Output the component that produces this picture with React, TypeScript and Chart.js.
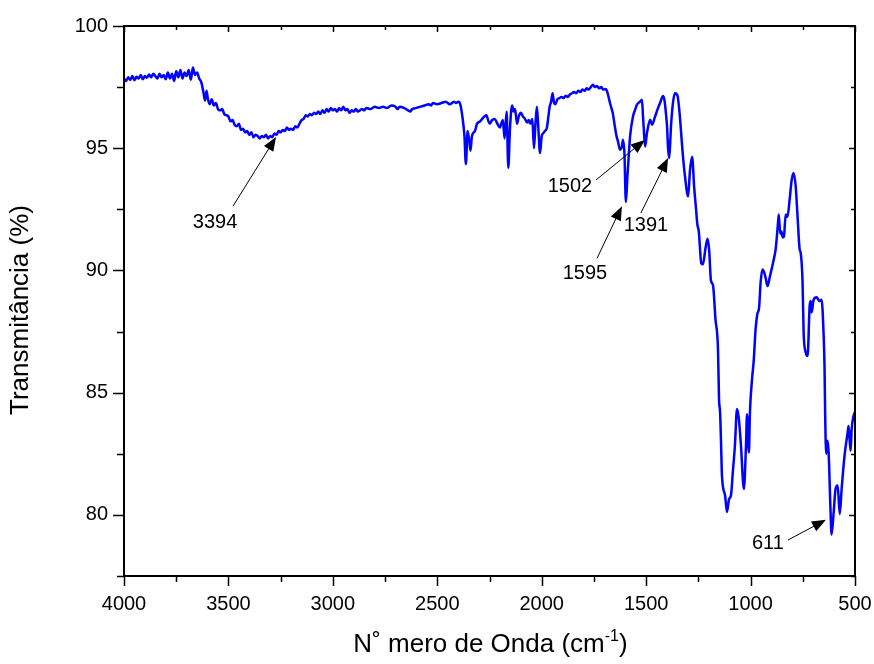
import React, { useEffect, useRef } from "react";
import { Chart, registerables } from "chart.js";

Chart.register(...registerables);

const wavenumber = [
  4000, 3990, 3980, 3970, 3960, 3950, 3940, 3930, 3920, 3910,
  3900, 3890, 3880, 3870, 3860, 3850, 3840, 3830, 3820, 3810,
  3800, 3790, 3780, 3770, 3760, 3750, 3740, 3730, 3720, 3710,
  3700, 3690, 3680, 3670, 3660, 3650, 3640, 3630, 3620, 3612,
  3605, 3598, 3590, 3580, 3570, 3560, 3550, 3540, 3530, 3520,
  3510, 3500, 3490, 3480, 3470, 3460, 3450, 3440, 3430, 3420,
  3410, 3400, 3390, 3380, 3370, 3360, 3350, 3340, 3330, 3320,
  3310, 3300, 3290, 3280, 3270, 3260, 3250, 3240, 3230, 3220,
  3210, 3200, 3190, 3180, 3170, 3160, 3150, 3140, 3130, 3120,
  3110, 3100, 3090, 3080, 3070, 3060, 3050, 3040, 3030, 3020,
  3010, 3000, 2990, 2980, 2970, 2960, 2950, 2940, 2930, 2920,
  2910, 2900, 2890, 2880, 2870, 2860, 2850, 2840, 2820, 2800,
  2780, 2760, 2740, 2720, 2700, 2690, 2680, 2660, 2640, 2630,
  2620, 2600, 2580, 2560, 2540, 2530, 2520, 2500, 2480, 2460,
  2440, 2420, 2410, 2400, 2390, 2380, 2370, 2363, 2355, 2347,
  2341, 2334, 2320, 2310, 2295, 2280, 2265, 2255, 2248, 2238,
  2225, 2212, 2200, 2192, 2186, 2178, 2168, 2160, 2152, 2142,
  2134, 2128, 2118, 2110, 2100, 2090, 2080, 2070, 2062, 2055,
  2045, 2037, 2030, 2023, 2016, 2008, 2000, 1994, 1985, 1975,
  1968, 1962, 1955, 1948, 1942, 1935, 1925, 1915, 1905, 1895,
  1885, 1875, 1865, 1855, 1845, 1835, 1825, 1815, 1805, 1795,
  1785, 1775, 1765, 1755, 1745, 1735, 1725, 1715, 1705, 1695,
  1688, 1680, 1673, 1665, 1659, 1650, 1642, 1635, 1625, 1616,
  1611, 1604, 1597, 1590, 1584, 1577, 1563, 1553, 1544, 1530,
  1520, 1515, 1510, 1505, 1496, 1481, 1472, 1457, 1445, 1433,
  1419, 1412, 1405, 1400, 1395, 1390, 1385, 1381, 1371, 1362,
  1350, 1340, 1325, 1314, 1299, 1290, 1280, 1270, 1262, 1255,
  1248, 1236, 1228, 1216, 1206, 1198, 1190, 1180, 1168, 1156,
  1151, 1146, 1141, 1137, 1122, 1113, 1103, 1094, 1085, 1075,
  1065, 1056, 1046, 1032, 1022, 1017, 1008, 1003, 993, 985,
  976, 968, 959, 952, 943, 934, 928, 919, 907, 889,
  880, 870, 865, 858, 853, 846, 840, 832, 823, 813,
  803, 794, 784, 775, 765, 760, 751, 746, 736, 727,
  717, 712, 708, 698, 684, 670, 660, 650, 646, 643,
  638, 631, 626, 617, 612, 602, 593, 583, 573, 564,
  550, 535, 531, 526, 521, 516, 507, 500,
];

const transmittance = [
  97.85, 97.75, 97.9, 97.8, 97.95, 97.78, 97.92, 97.85, 98.0, 97.82,
  97.95, 97.88, 98.02, 97.9, 98.05, 97.95, 97.85, 98.05, 97.9, 98.0,
  97.82, 98.1, 97.85, 98.05, 97.75, 98.15, 97.9, 98.2, 97.85, 98.1,
  97.95, 98.2, 97.8, 98.3, 98.0, 98.1, 97.85, 97.7, 97.3, 96.95,
  97.35, 97.0, 96.8, 97.0, 96.75, 96.85, 96.6, 96.55, 96.6, 96.4,
  96.35, 96.3, 96.1, 96.15, 95.95, 95.9, 96.0, 95.75, 95.8, 95.65,
  95.7, 95.55, 95.65, 95.45, 95.55, 95.5, 95.4, 95.5, 95.45, 95.55,
  95.4, 95.5, 95.45, 95.6, 95.55, 95.7, 95.65, 95.75, 95.7, 95.85,
  95.75, 95.8, 95.75, 95.9, 95.85, 96.0, 96.15, 96.2, 96.35, 96.3,
  96.4, 96.35, 96.45, 96.4, 96.5, 96.4, 96.55, 96.45, 96.6, 96.5,
  96.65, 96.55, 96.6, 96.5, 96.65, 96.55, 96.7, 96.55, 96.6, 96.45,
  96.55, 96.5, 96.6, 96.5, 96.55, 96.6, 96.55, 96.65, 96.6, 96.7,
  96.65, 96.7, 96.65, 96.75, 96.7, 96.6, 96.7, 96.65, 96.55, 96.5,
  96.6, 96.65, 96.7, 96.75, 96.8, 96.75, 96.85, 96.8, 96.85, 96.9,
  96.8, 96.9, 96.85, 96.9, 96.8, 96.3, 95.5, 94.35, 95.7, 95.3,
  94.9, 95.5, 95.7, 96.0, 96.1, 96.25, 96.35, 96.1, 96.0, 96.15,
  96.2, 96.0, 95.85, 96.05, 96.15, 95.4, 96.5, 94.2, 95.8, 96.75,
  96.5, 96.6, 96.0, 96.3, 96.45, 96.3, 96.2, 96.05, 96.15, 96.0,
  96.2, 95.0, 96.0, 96.7, 95.8, 94.8, 95.5, 95.6, 95.7, 95.85,
  96.3, 96.7, 96.9, 97.25, 96.9, 96.8, 97.0, 97.05, 97.1, 97.05,
  97.15, 97.1, 97.2, 97.25, 97.3, 97.25, 97.35, 97.3, 97.4, 97.35,
  97.45, 97.4, 97.5, 97.6, 97.5, 97.55, 97.45, 97.5, 97.4, 97.42,
  97.35, 97.1, 96.85, 96.6, 96.4, 95.9, 95.5, 95.28, 94.94, 95.07,
  95.35, 94.8, 92.8, 93.8, 94.6, 95.48, 96.3, 96.57, 96.78, 96.9,
  96.98, 96.3, 95.6, 95.07, 95.63, 96.16, 95.96, 96.3, 96.6, 96.86,
  97.14, 96.95, 96.4, 95.9, 95.0, 94.6, 95.2, 95.9, 96.9, 97.25,
  97.15, 96.45, 94.8, 93.85, 93.03, 94.1, 94.65, 93.4, 92.6, 91.9,
  91.6, 90.3, 90.25, 90.9, 91.3, 90.8, 89.6, 89.4, 88.0, 86.78,
  84.73, 84.2, 82.83, 81.6, 80.79, 80.12, 80.65, 80.79, 81.75, 82.83,
  84.33, 83.92, 82.83, 81.06, 82.83, 84.12, 82.56, 84.2, 85.55, 86.3,
  87.6, 88.2, 88.5, 89.5, 90.04, 89.9, 89.7, 89.36, 89.77, 90.45,
  90.86, 91.8, 92.29, 91.5, 91.6, 91.35, 91.4, 92.29, 92.2, 92.9,
  93.71, 93.99, 93.44, 92.2, 90.86, 90.72, 89.5, 87.46, 86.65, 86.5,
  88.56, 88.75, 88.28, 88.8, 88.9, 88.75, 88.8, 87.31, 86.1, 84.2,
  82.5, 83.03, 82.5, 80.12, 79.2, 80.12, 81.06, 81.2, 80.04, 81.06,
  82.43, 83.38, 83.64, 83.1, 82.62, 83.5, 84.05, 84.2,
];

const xTicks = [4000, 3500, 3000, 2500, 2000, 1500, 1000, 500];
const yTicks = [80, 85, 90, 95, 100];

const xTitleMain = "N˚ mero de Onda (cm";
const xTitleSup = "-1";
const xTitleEnd = ")";
const yTitle = "Transmitância (%)";

// peak annotations: label, text anchor, arrow tail, arrow tip (in data units)
const peakLabels = ["3394", "1502", "1595", "1391", "611"];
const labelX = [3564, 1865, 1793, 1501, 917];
const labelY = [91.98, 93.45, 89.89, 91.82, 78.81];
const tailX = [3478, 1740, 1735, 1525, 821];
const tailY = [92.63, 93.7, 90.5, 92.35, 78.97];
const tipX = [3272, 1506, 1616, 1395, 639];
const tipY = [95.46, 95.34, 92.63, 94.6, 79.8];

const FONT = '"Liberation Sans", Arial, Helvetica, sans-serif';

const framePlugin = {
  id: "frame",
  afterDraw(chart: any) {
    const { ctx, chartArea: a, scales } = chart;
    const xs = scales.x;
    const ys = scales.y;
    ctx.save();
    ctx.strokeStyle = "#000";
    ctx.lineWidth = 2;
    ctx.strokeRect(a.left, a.top, a.right - a.left, a.bottom - a.top);

    ctx.lineWidth = 1.5;
    ctx.beginPath();
    const xMinor: number[] = [];
    for (let i = 0; i < xTicks.length - 1; i++) xMinor.push((xTicks[i] + xTicks[i + 1]) / 2);
    xTicks.forEach((v) => {
      const p = Math.round(xs.getPixelForValue(v)) + 0.5;
      ctx.moveTo(p, a.bottom);
      ctx.lineTo(p, a.bottom + 10);
      ctx.moveTo(p, a.top);
      ctx.lineTo(p, a.top + 6);
    });
    xMinor.forEach((v) => {
      const p = Math.round(xs.getPixelForValue(v)) + 0.5;
      ctx.moveTo(p, a.bottom);
      ctx.lineTo(p, a.bottom + 6);
      ctx.moveTo(p, a.top);
      ctx.lineTo(p, a.top + 4);
    });
    const yMinor: number[] = [yTicks[0] - (yTicks[1] - yTicks[0]) / 2];
    for (let i = 0; i < yTicks.length - 1; i++) yMinor.push((yTicks[i] + yTicks[i + 1]) / 2);
    yTicks.forEach((v) => {
      const p = Math.round(ys.getPixelForValue(v)) + 0.5;
      ctx.moveTo(a.left - 11, p);
      ctx.lineTo(a.left, p);
      ctx.moveTo(a.right, p);
      ctx.lineTo(a.right - 6, p);
    });
    yMinor.forEach((v) => {
      if (v < ys.min) return;
      const p = Math.round(ys.getPixelForValue(v)) + 0.5;
      ctx.moveTo(a.left - 7, p);
      ctx.lineTo(a.left, p);
      ctx.moveTo(a.right, p);
      ctx.lineTo(a.right - 4, p);
    });
    ctx.stroke();

    // annotations
    ctx.fillStyle = "#000";
    ctx.font = `20px ${FONT}`;
    ctx.textAlign = "center";
    ctx.textBaseline = "middle";
    peakLabels.forEach((t, i) => {
      const lx = xs.getPixelForValue(labelX[i]);
      const ly = ys.getPixelForValue(labelY[i]);
      ctx.fillText(t, lx, ly);
      const x0 = xs.getPixelForValue(tailX[i]);
      const y0 = ys.getPixelForValue(tailY[i]);
      const x1 = xs.getPixelForValue(tipX[i]);
      const y1 = ys.getPixelForValue(tipY[i]);
      const ang = Math.atan2(y1 - y0, x1 - x0);
      const hl = 14;
      const hw = 5.5;
      ctx.lineWidth = 1;
      ctx.beginPath();
      ctx.moveTo(x0, y0);
      ctx.lineTo(x1 - Math.cos(ang) * hl * 0.8, y1 - Math.sin(ang) * hl * 0.8);
      ctx.stroke();
      const bx = x1 - Math.cos(ang) * hl;
      const by = y1 - Math.sin(ang) * hl;
      ctx.beginPath();
      ctx.moveTo(x1, y1);
      ctx.lineTo(bx + Math.sin(ang) * hw, by - Math.cos(ang) * hw);
      ctx.lineTo(bx - Math.sin(ang) * hw, by + Math.cos(ang) * hw);
      ctx.closePath();
      ctx.fill();
    });

    // y-axis title
    ctx.save();
    ctx.translate(21, (a.top + a.bottom) / 2 + 9);
    ctx.rotate(-Math.PI / 2);
    ctx.font = `26px ${FONT}`;
    ctx.textAlign = "center";
    ctx.textBaseline = "middle";
    ctx.fillText(yTitle, 0, 0);
    ctx.restore();

    // x-axis title with superscript
    ctx.textAlign = "left";
    ctx.textBaseline = "alphabetic";
    ctx.font = `26px ${FONT}`;
    const w1 = ctx.measureText(xTitleMain).width;
    const w3 = ctx.measureText(xTitleEnd).width;
    ctx.font = `16px ${FONT}`;
    const w2 = ctx.measureText(xTitleSup).width;
    const total = w1 + w2 + w3;
    const cx = (a.left + a.right) / 2 + 1;
    const base = 652;
    let sx = cx - total / 2;
    ctx.font = `26px ${FONT}`;
    ctx.fillText(xTitleMain, sx, base);
    sx += w1;
    ctx.font = `16px ${FONT}`;
    ctx.fillText(xTitleSup, sx, base - 11);
    sx += w2;
    ctx.font = `26px ${FONT}`;
    ctx.fillText(xTitleEnd, sx, base);
    ctx.restore();
  },
};

export default function App() {
  const ref = useRef<HTMLCanvasElement>(null);
  useEffect(() => {
    document.body.style.margin = "0";
    const points = wavenumber.map((w, i) => ({ x: w, y: transmittance[i] }));
    const chart = new Chart(ref.current as HTMLCanvasElement, {
      type: "line",
      data: {
        datasets: [
          {
            data: points,
            borderColor: "#0000ff",
            borderWidth: 2.5,
            pointRadius: 0,
            fill: false,
            cubicInterpolationMode: "monotone",
          },
        ],
      },
      options: {
        responsive: false,
        animation: false,
        devicePixelRatio: 1,
        layout: { padding: { left: 0, right: 19, top: 26, bottom: 0 } },
        plugins: { legend: { display: false }, tooltip: { enabled: false } },
        scales: {
          x: {
            type: "linear",
            reverse: true,
            min: 500,
            max: 4000,
            afterBuildTicks: (s: any) => {
              s.ticks = xTicks.map((v) => ({ value: v }));
            },
            afterFit: (s: any) => {
              s.height = 88;
              s.paddingLeft = 0;
              s.paddingRight = 0;
            },
            grid: { display: false, drawTicks: false },
            border: { display: false },
            ticks: {
              padding: 16,
              color: "#000",
              font: { family: FONT, size: 20 },
              maxRotation: 0,
              callback: (v: any) => String(v),
            },
          },
          y: {
            type: "linear",
            min: 77.5,
            max: 100,
            afterBuildTicks: (s: any) => {
              s.ticks = yTicks.map((v) => ({ value: v }));
            },
            afterFit: (s: any) => {
              s.width = 124;
              s.paddingTop = 0;
              s.paddingBottom = 0;
            },
            grid: { display: false, drawTicks: false },
            border: { display: false },
            ticks: {
              padding: 16,
              color: "#000",
              font: { family: FONT, size: 20 },
              callback: (v: any) => String(v),
            },
          },
        },
      },
      plugins: [framePlugin],
    } as any);
    return () => chart.destroy();
  }, []);
  return <canvas ref={ref} width={874} height={664} style={{ display: "block" }} />;
}
